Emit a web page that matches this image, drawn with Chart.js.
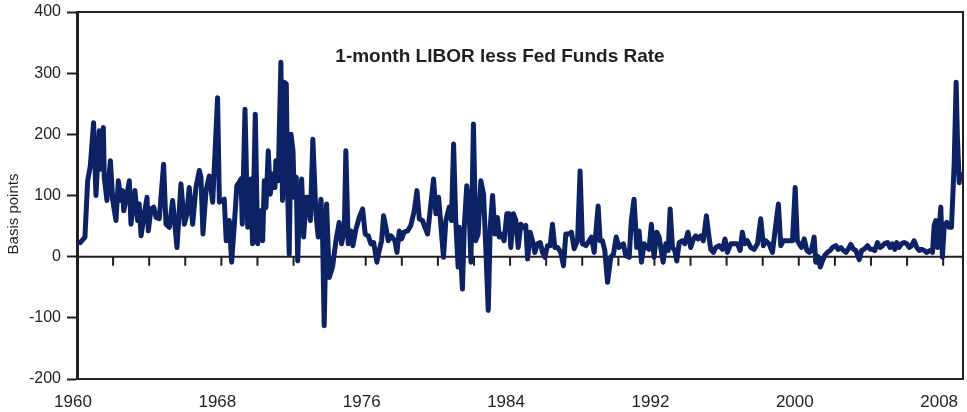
<!DOCTYPE html>
<html>
<head>
<meta charset="utf-8">
<script src="https://cdn.jsdelivr.net/npm/chart.js@4.4.0/dist/chart.umd.min.js"></script>
<style>
  html, body { margin: 0; padding: 0; background: #fff; }
  #wrap { width: 967px; height: 412px; }
</style>
</head>
<body>
<div id="wrap"><canvas id="chart"></canvas></div>
<script>
// Chart text
const chartTitle = "1-month LIBOR less Fed Funds Rate";
const yTitle = "Basis points";

// Axis ticks
const yearTicks = [1960, 1968, 1976, 1984, 1992, 2000, 2008];
const valueTicks = [-200, -100, 0, 100, 200, 300, 400];

const years = [
  1960.18, 1960.44, 1960.59, 1960.74, 1960.92, 1961.05, 1961.24, 1961.33, 1961.46, 1961.51, 1961.66, 1961.85, 1961.98,
  1962.16, 1962.29, 1962.44, 1962.53, 1962.59, 1962.71, 1962.90, 1962.99, 1963.21, 1963.36, 1963.45, 1963.55, 1963.73,
  1963.88, 1963.95, 1964.10, 1964.25, 1964.38, 1964.56, 1964.80, 1964.93, 1965.12, 1965.30, 1965.54, 1965.76, 1965.95,
  1966.09, 1966.22, 1966.41, 1966.59, 1966.78, 1966.87, 1966.98, 1967.15, 1967.33, 1967.52, 1967.79, 1967.89, 1968.16,
  1968.27, 1968.44, 1968.57, 1968.72, 1968.86, 1969.09, 1969.16, 1969.31, 1969.46, 1969.64, 1969.73, 1969.88,
  1970.01, 1970.16, 1970.29, 1970.38, 1970.47, 1970.60, 1970.71, 1970.84, 1970.97, 1971.02, 1971.15, 1971.30, 1971.39,
  1971.49, 1971.60, 1971.67, 1971.76, 1971.86, 1971.97, 1972.04, 1972.15, 1972.23, 1972.32, 1972.45, 1972.56, 1972.69,
  1972.78, 1972.93, 1973.07, 1973.24, 1973.37, 1973.52, 1973.61, 1973.70, 1973.83, 1973.98, 1974.16, 1974.35, 1974.53,
  1974.66, 1974.81, 1974.90, 1975.03, 1975.18, 1975.29, 1975.46, 1975.64, 1975.83, 1975.97, 1976.14, 1976.29, 1976.44,
  1976.62, 1976.75, 1976.88, 1976.99, 1977.12, 1977.25, 1977.40, 1977.62, 1977.73, 1977.86, 1977.99, 1978.13, 1978.32,
  1978.50, 1978.69, 1978.84, 1978.97, 1979.15, 1979.28, 1979.43, 1979.61, 1979.76, 1979.89,
  1980.04, 1980.31, 1980.44, 1980.63, 1980.75, 1980.87, 1980.99, 1981.12, 1981.18, 1981.36, 1981.46, 1981.60, 1981.73,
  1981.83, 1981.97, 1982.10, 1982.23, 1982.38, 1982.53, 1982.66, 1982.79, 1982.90, 1983.03, 1983.16, 1983.30, 1983.40,
  1983.52, 1983.67, 1983.82, 1983.95, 1984.04, 1984.19, 1984.32, 1984.45, 1984.60, 1984.74, 1984.87, 1984.97, 1985.11,
  1985.24, 1985.37, 1985.52, 1985.67, 1985.80, 1985.93, 1986.07, 1986.22, 1986.35, 1986.48, 1986.63, 1986.81, 1986.96,
  1987.09, 1987.27, 1987.40, 1987.55, 1987.74, 1987.88, 1988.01, 1988.20, 1988.38, 1988.51, 1988.66, 1988.88, 1988.99,
  1989.12, 1989.25, 1989.40, 1989.58, 1989.73, 1989.88,
  1990.04, 1990.13, 1990.28, 1990.41, 1990.60, 1990.72, 1990.87, 1991.02, 1991.15, 1991.28, 1991.43, 1991.57, 1991.70,
  1991.83, 1991.98, 1992.13, 1992.26, 1992.35, 1992.48, 1992.63, 1992.76, 1992.87, 1993.00, 1993.13, 1993.24, 1993.37,
  1993.55, 1993.68, 1993.86, 1994.01, 1994.16, 1994.29, 1994.42, 1994.57, 1994.71, 1994.88, 1995.03, 1995.12, 1995.27,
  1995.40, 1995.58, 1995.77, 1995.91, 1996.04, 1996.23, 1996.41, 1996.60, 1996.75, 1996.87, 1997.00, 1997.15, 1997.34,
  1997.52, 1997.71, 1997.89, 1998.04, 1998.17, 1998.35, 1998.54, 1998.72, 1998.87, 1999.00, 1999.15, 1999.28, 1999.46,
  1999.65, 1999.80, 1999.92,
  2000.02, 2000.15, 2000.30, 2000.45, 2000.58, 2000.70, 2000.85, 2000.94, 2001.07, 2001.19, 2001.31, 2001.44, 2001.59,
  2001.74, 2001.87, 2002.05, 2002.18, 2002.33, 2002.48, 2002.61, 2002.74, 2002.88, 2003.03, 2003.16, 2003.35, 2003.48,
  2003.62, 2003.81, 2003.96, 2004.08, 2004.21, 2004.36, 2004.51, 2004.64, 2004.79, 2004.92, 2005.06, 2005.19, 2005.32,
  2005.43, 2005.56, 2005.69, 2005.84, 2005.99, 2006.12, 2006.25, 2006.39, 2006.54, 2006.67, 2006.80, 2006.95, 2007.09,
  2007.28, 2007.41, 2007.50, 2007.59, 2007.69, 2007.78, 2007.87, 2007.96, 2008.06, 2008.20, 2008.33, 2008.46, 2008.61,
  2008.72, 2008.79, 2008.89, 2008.94
];

// 1-month LIBOR minus fed funds, basis points
const spread = [
  23, 32, 124, 149, 219, 100, 206, 143, 211, 130, 92, 157, 92,
  59, 124, 92, 108, 75, 92, 124, 53, 108, 59, 86, 34, 70,
  97, 42, 78, 81, 64, 62, 151, 53, 48, 92, 15, 119, 53,
  70, 113, 53, 113, 141, 130, 37, 108, 132, 89, 260, 89, 94,
  26, 59, -9, 53, 116, 127, 53, 241, 48, 127, 21, 233,
  21, 75, 26, 124, 80, 173, 102, 135, 113, 157, 124, 318, 92,
  285, 282, 108, 4, 200, 173, 97, 130, -7, 80, 127, 32, 97,
  97, 59, 192, 70, 32, 94, 32, -113, 86, -34, -17, 26, 56,
  21, 42, 173, 21, 42, 18, 45, 64, 78, 37, 34, 21, 23,
  -9, 10, 26, 67, 48, 26, 34, 26, 7, 42, 29, 40, 42,
  51, 75, 108, 62, 59, 48, 37, 86, 127, 70,
  97, -1, 59, 81, 59, 184, 59, -17, 48, -53, 48, 116, 75,
  -9, 217, 26, 37, 124, 102, 10, -88, 48, 100, 37, 64, 32,
  37, 26, 70, 70, 15, 70, 59, 15, 53, 48, 51, -4, 40,
  26, 7, 21, 23, 7, -1, 18, 18, 53, 15, 15, 7, -15,
  37, 37, 40, 13, 26, 140, 21, 18, 26, 32, 7, 83, 26,
  26, 10, -42, -1, 4, 32,
  15, 18, 21, 2, -1, 59, 94, 15, 42, -9, 21, 15, 12,
  53, -1, 40, 32, 15, -9, 21, 10, 78, 15, 10, -7, 23,
  26, 21, 40, 15, 29, 34, 29, 34, 26, 67, 31, 12, 7,
  15, 18, 12, 29, 7, 21, 21, 21, 10, 40, 21, 26, 15,
  12, 21, 62, 18, 26, 21, 7, 51, 86, 18, 26, 26, 26,
  26, 113, 26,
  21, 15, 29, 10, 7, 10, 32, -9, 0, -17, -7, 2, 7,
  10, 15, 18, 12, 15, 10, 7, 12, 20, 12, 10, -5, 10,
  12, 18, 12, 12, 10, 23, 15, 18, 22, 23, 15, 21, 12,
  23, 15, 21, 23, 21, 15, 18, 26, 15, 10, 12, 10, 7,
  10, 7, 51, 59, 15, 48, 81, -1, 51, 56, 48, 48, 151,
  285, 195, 121, 135
];

const ink = "#231f20";
const navy = "#0d2165";
const fontFamily = "'Liberation Sans', Arial, Helvetica, sans-serif";

// Frame, zero line with 2-year ticks, and the in-chart texts
const decorations = {
  id: "decorations",
  beforeDatasetsDraw(chart) {
    const { ctx, chartArea: a, scales: { x, y } } = chart;
    ctx.save();
    ctx.strokeStyle = ink;
    ctx.lineWidth = 2;
    ctx.beginPath();
    ctx.moveTo(a.left, a.top);
    ctx.lineTo(a.right, a.top);
    ctx.lineTo(a.right, a.bottom);
    ctx.stroke();

    const y0 = y.getPixelForValue(0);
    ctx.beginPath();
    ctx.moveTo(a.left, y0);
    ctx.lineTo(a.right, y0);
    for (let yr = 1962; yr <= 2008; yr += 2) {
      const px = x.getPixelForValue(yr);
      ctx.moveTo(px, y0);
      ctx.lineTo(px, y0 + 9);
    }
    ctx.stroke();
    ctx.restore();
  },
  afterDraw(chart) {
    const { ctx } = chart;
    ctx.save();
    ctx.fillStyle = ink;
    ctx.font = "bold 19px " + fontFamily;
    ctx.textAlign = "center";
    ctx.textBaseline = "middle";
    ctx.fillText(chartTitle, 500, 57);

    ctx.font = "15px " + fontFamily;
    ctx.translate(14, 214);
    ctx.rotate(-Math.PI / 2);
    ctx.fillText(yTitle, 0, 0);
    ctx.restore();
  }
};

document.addEventListener("DOMContentLoaded", () => {
  const ctx = document.getElementById("chart").getContext("2d");
  new Chart(ctx, {
    type: "line",
    data: {
      datasets: [
        {
          data: years.map((yr, i) => ({ x: yr, y: spread[i] })),
          borderColor: navy,
          borderWidth: 5,
          borderJoinStyle: "round",
          borderCapStyle: "round",
          pointRadius: 0,
          tension: 0,
          fill: false,
        },
      ],
    },
    options: {
      responsive: true,
      maintainAspectRatio: false,
      animation: false,
      layout: { padding: { top: 12, right: 4, left: 0, bottom: 0 } },
      plugins: {
        legend: { display: false },
        tooltip: { enabled: false },
      },
      scales: {
        x: {
          type: "linear",
          min: 1960,
          max: 2009.1,
          afterBuildTicks: (s) => { s.ticks = yearTicks.map((v) => ({ value: v })); },
          afterFit: (s) => { s.height = 33; s.paddingLeft = 0; s.paddingRight = 0; },
          ticks: {
            color: ink,
            font: { family: fontFamily, size: 17 },
            padding: 13,
            labelOffset: -4,
            maxRotation: 0,
            autoSkip: false,
            callback: (v) => String(v),
          },
          grid: { drawOnChartArea: false, drawTicks: false },
          border: { display: true, color: ink, width: 2 },
        },
        y: {
          min: -200,
          max: 400,
          afterBuildTicks: (s) => { s.ticks = valueTicks.map((v) => ({ value: v })); },
          afterFit: (s) => { s.width = 77; s.paddingTop = 0; s.paddingBottom = 0; },
          ticks: {
            color: ink,
            font: { family: fontFamily, size: 16 },
            padding: 6,
            callback: (v) => String(v),
          },
          grid: { drawOnChartArea: false, drawTicks: true, tickLength: 10, tickWidth: 2, tickColor: ink },
          border: { display: true, color: ink, width: 3 },
        },
      },
    },
    plugins: [decorations],
  });
});
</script>
</body>
</html>
